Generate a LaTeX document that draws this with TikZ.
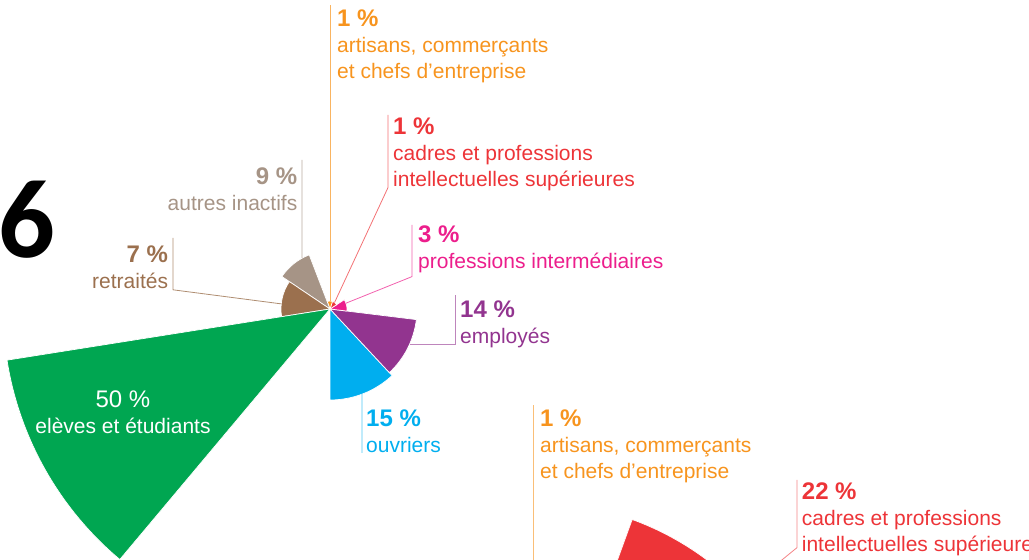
\documentclass[tikz,border=0pt]{standalone}
\usepackage{fontspec}
\setmainfont{Liberation Sans}
\newfontfamily\numfont{Carlito}
\usetikzlibrary{calc}

\definecolor{artcol}{RGB}{247,148,30}
\definecolor{cadcol}{RGB}{237,52,56}
\definecolor{procol}{RGB}{236,30,140}
\definecolor{empcol}{RGB}{146,52,143}
\definecolor{ouvcol}{RGB}{0,174,239}
\definecolor{elecol}{RGB}{0,166,81}
\definecolor{retcol}{RGB}{155,112,78}
\definecolor{autcol}{RGB}{166,148,134}

\newcommand{\pcval}[1]{{\fontsize{24}{26}\selectfont\bfseries #1~\%}}

\begin{document}
\begin{tikzpicture}[x=1pt, y=1pt,
  sector/.style={draw=white, line width=0.7pt, line join=round},
  lbl/.style={inner sep=0pt, font=\fontsize{21}{26}\selectfont},
  leader/.style={line width=0.8pt}]

  \useasboundingbox (0,0) rectangle (1029,560);
  \clip (0,0) rectangle (1029,560);

  % Centres of the two charts
  \coordinate (C1) at (330,251);
  \coordinate (C2) at (533,-232);

  % Sectors, first chart
  \filldraw[sector, fill=ouvcol] (C1) -- ++(270:91) arc[start angle=270, end angle=313, radius=91] -- cycle;
  \filldraw[sector, fill=empcol] (C1) -- ++(313:87) arc[start angle=313, end angle=353, radius=87] -- cycle;
  \filldraw[sector, fill=procol] (C1) -- ++(-7:17) arc[start angle=-7, end angle=33, radius=17] -- cycle;
  \filldraw[sector, fill=cadcol] (C1) -- ++(33:8) arc[start angle=33, end angle=72, radius=8] -- cycle;
  \filldraw[sector, fill=artcol] (C1) -- ++(72:8) arc[start angle=72, end angle=110, radius=8] -- cycle;
  \filldraw[sector, fill=autcol] (C1) -- ++(111:58) arc[start angle=111, end angle=146, radius=58] -- cycle;
  \filldraw[sector, fill=retcol] (C1) -- ++(146:49) arc[start angle=146, end angle=189, radius=49] -- cycle;
  \filldraw[sector, fill=elecol] (C1) -- ++(189:327) arc[start angle=189, end angle=230, radius=327] -- cycle;

  % Sector, second chart
  \filldraw[sector, fill=cadcol] (C2) -- ++(30:290) arc[start angle=30, end angle=70, radius=290] -- cycle;

  % Leader ends on the sectors
  \coordinate (tipA1) at ($(C1)+(90:8)$);
  \coordinate (tipC1) at ($(C1)+(55:8)$);
  \coordinate (tipP1) at ($(C1)+(20:17)$);
  \coordinate (tipE1) at (410,216);
  \coordinate (tipO1) at ($(C1)+(290.6:91)$);
  \coordinate (tipI1) at ($(C1)+(118.9:58)$);
  \coordinate (tipR1) at ($(C1)+(174:49)$);
  \coordinate (tipC2) at (755,-22);

  % Labels, first chart
  \node[lbl, anchor=north west, align=left, text=artcol] (art1) at (337,550.5) {\pcval{1}\\artisans, commerçants\\et chefs d’entreprise};
  \node[lbl, anchor=north west, align=left, text=cadcol] (cad1) at (393,442.5) {\pcval{1}\\cadres et professions\\intellectuelles supérieures};
  \node[lbl, anchor=north west, align=left, text=procol] (pro1) at (418,334.5) {\pcval{3}\\professions intermédiaires};
  \node[lbl, anchor=north west, align=left, text=empcol] (emp1) at (460,259.5) {\pcval{14}\\employés};
  \node[lbl, anchor=north west, align=left, text=ouvcol] (ouv1) at (366,150.5) {\pcval{15}\\ouvriers};
  \node[lbl, anchor=north east, align=right, text=autcol] (aut1) at (297.5,392.5) {\pcval{9}\\autres inactifs};
  \node[lbl, anchor=north east, align=right, text=retcol] (ret1) at (168.3,314.5) {\pcval{7}\\retraités};
  \node[lbl, anchor=north, align=center, text=white] (ele1) at (123,169) {{\fontsize{24}{26}\selectfont 50~\%}\\elèves et étudiants};

  % Labels, second chart
  \node[lbl, anchor=north west, align=left, text=artcol] (art2) at (540,150.5) {\pcval{1}\\artisans, commerçants\\et chefs d’entreprise};
  \node[lbl, anchor=north west, align=left, text=cadcol] (cad2) at (801.7,77.5) {\pcval{22}\\cadres et professions\\intellectuelles supérieures};

  % Figure number
  \node[font=\numfont\bfseries\fontsize{112}{112}\selectfont, inner sep=0pt] (num) at (27,340) {6};

  % Leader lines
  \draw[leader, artcol!70] (tipA1) -- ([xshift=-7pt, yshift=4pt]art1.north west);
  \draw[leader, cadcol!70] (tipC1) -- ([xshift=-5pt, yshift=3.4pt]cad1.south west) -- ([xshift=-5pt, yshift=2.5pt]cad1.north west);
  \draw[leader, procol!70] (tipP1) -- ([xshift=-6pt, yshift=-3.6pt]pro1.south west) -- ([xshift=-6pt, yshift=0.5pt]pro1.north west);
  \draw[leader, empcol!60] (tipE1) -| ([xshift=-5pt, yshift=5.5pt]emp1.north west);
  \draw[leader, ouvcol!70] (tipO1) -- ([xshift=-4pt]ouv1.south west);
  \draw[leader, autcol!80] (tipI1) -- ([xshift=4.5pt, yshift=7.5pt]aut1.north east);
  \draw[leader, retcol!80] (tipR1) -- ([xshift=4.7pt, yshift=-1pt]ret1.south east) -- ([xshift=4.7pt, yshift=7.5pt]ret1.north east);
  \draw[leader, artcol!60] (C2) -- ([xshift=-7pt, yshift=4.5pt]art2.north west);
  \draw[leader, cadcol!60] (tipC2) -- ([xshift=-4.7pt, yshift=8.4pt]cad2.south west) -- ([xshift=-4.7pt, yshift=2.5pt]cad2.north west);

\end{tikzpicture}
\end{document}
